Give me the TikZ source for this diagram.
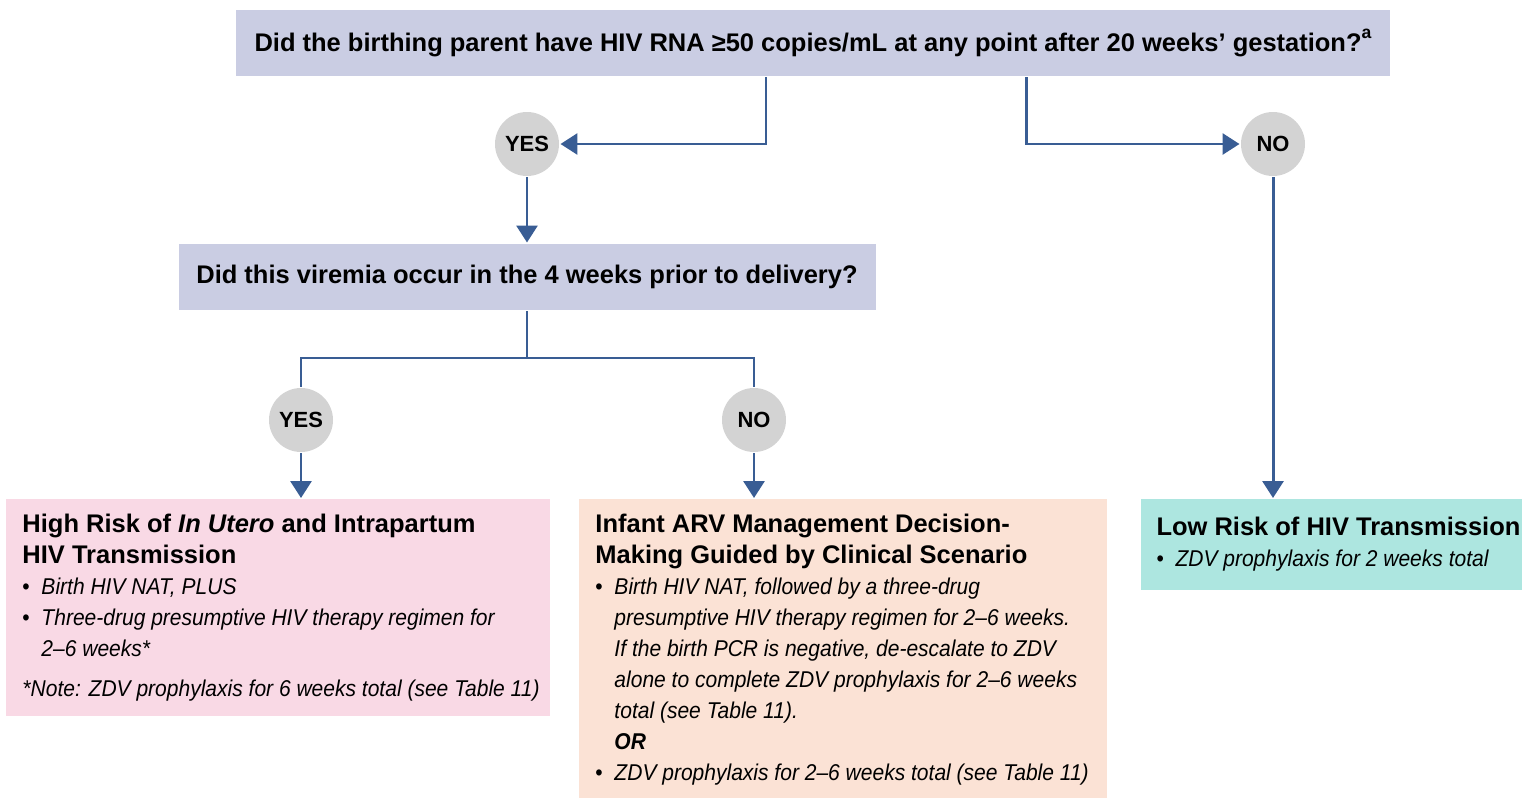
\documentclass[tikz,border=0pt]{standalone}
\usepackage{fontspec}
\setmainfont{Liberation Sans}
\newfontfamily\narrowfont[FakeStretch=0.92]{Liberation Sans}
\usetikzlibrary{arrows.meta,positioning}

\definecolor{qblue}{HTML}{CACDE3}
\definecolor{riskpink}{HTML}{F9D9E5}
\definecolor{riskpeach}{HTML}{FBE2D5}
\definecolor{riskteal}{HTML}{ADE6E0}
\definecolor{answergray}{HTML}{D3D3D3}
\definecolor{flowblue}{HTML}{395D94}

\newcommand{\bitem}[1]{\par{\leftskip=0.38cm\noindent\llap{\makebox[0.38cm][l]{\upshape\textbullet}}#1\par}}
\newcommand{\nl}{\hfil\break}
\newcommand{\bodytext}{\narrowfont\itshape\fontsize{13}{17.6}\selectfont}

\begin{document}
\begin{tikzpicture}[>={Triangle[width=0.42cm,length=0.34cm]}, line width=1.7pt,
  every node/.style={font=\fontsize{14.5}{17.6}\selectfont\bfseries},
  question/.style={rectangle, fill=qblue, minimum height=1.32cm, inner sep=0pt},
  answer/.style={circle, fill=answergray, minimum size=1.28cm, inner sep=0pt, font=\fontsize{12.5}{15}\selectfont\bfseries},
  outcome/.style={rectangle, anchor=north west, align=flush left, inner xsep=0.32cm, inner ysep=0.1cm, font=\fontsize{14.5}{17.6}\selectfont},
  link/.style={draw=flowblue}
]
\useasboundingbox (0,0) rectangle (30.44,-15.96);

% Questions
\node[question, minimum width=23.08cm] (q1) at (16.26,-0.86) {Did the birthing parent have HIV RNA ≥50 copies/mL at any point after 20 weeks’ gestation?\raisebox{0.9ex}{\fontsize{10}{11}\selectfont a}};
\node[question, minimum width=13.94cm] (q2) at (10.54,-5.54) {Did this viremia occur in the 4 weeks prior to delivery?};

% Answers
\node[answer] (yes1) at (10.54,-2.88) {YES};
\node[answer] (no1) at (25.46,-2.88) {NO};
\node[answer] (yes2) at (6.02,-8.4) {YES};
\node[answer] (no2) at (15.08,-8.4) {NO};

% Outcomes
\node[outcome, fill=riskpink, text width=10.24cm, minimum height=4.32cm] (high) at (0.1,-9.96) {%
  {\bfseries High Risk of \textit{In Utero} and Intrapartum\nl HIV Transmission}
  \par{\bodytext
  \bitem{Birth HIV NAT, PLUS}
  \bitem{Three-drug presumptive HIV therapy regimen for\nl 2–6 weeks*}
  \vspace{5pt}\noindent\mbox{*Note: ZDV prophylaxis for 6 weeks total (see Table 11)}\par}};
\node[outcome, fill=riskpeach, text width=9.9cm, minimum height=6cm] (mid) at (11.56,-9.96) {%
  {\bfseries Infant ARV Management Decision-\nl Making Guided by Clinical Scenario}
  \par{\bodytext
  \bitem{Birth HIV NAT, followed by a three-drug\nl presumptive HIV therapy regimen for 2–6 weeks.\nl If the birth PCR is negative, de-escalate to ZDV\nl alone to complete ZDV prophylaxis for 2–6 weeks\nl total (see Table 11).\nl \textbf{OR}}
  \bitem{\mbox{ZDV prophylaxis for 2–6 weeks total (see Table 11)}}\par}};
\node[outcome, fill=riskteal, text width=7.5cm, minimum height=1.8cm] (low) at (22.78,-9.96) {%
  {\bfseries Low Risk of HIV Transmission}
  \par{\bodytext
  \bitem{ZDV prophylaxis for 2 weeks total}\par}};

% Arrows - first question to answers
\draw[link, ->] ([xshift=-0.94cm]q1.south) |- (yes1);
\draw[link, ->] ([xshift=4.26cm]q1.south) |- (no1);

% Arrows - answers onward
\draw[link, ->] (yes1) -- (q2);
\draw[link, ->] (no1) -- (no1 |- low.north);

% Split below second question
\coordinate (split) at (10.54,-7.16);
\draw[link] (q2) -- (split);
\draw[link] (split) -| (yes2);
\draw[link] (split) -| (no2);

% Arrows - second answers to outcomes
\draw[link, ->] (yes2) -- (yes2 |- high.north);
\draw[link, ->] (no2) -- (no2 |- mid.north);

\end{tikzpicture}
\end{document}
